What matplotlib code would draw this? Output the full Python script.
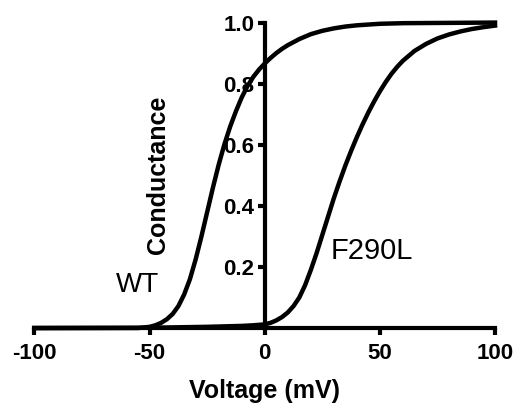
import matplotlib
matplotlib.use("Agg")
import matplotlib.pyplot as plt

plt.rcParams['font.family'] = ['Liberation Sans', 'DejaVu Sans']

# conductance-voltage curves (mV, normalised G)
wt_v = [-100, -55, -50, -47.5, -45, -42.5, -40, -37.5, -35, -32.5, -30, -27.5,
        -25, -22.5, -20, -17.5, -15, -12.5, -10, -7.5, -5, -2.5, 0, 2.5, 5,
        7.5, 10, 15, 20, 25, 30, 35, 40, 50, 60, 80, 100]
wt_g = [0.0, 0.0, 0.004, 0.009, 0.017, 0.029, 0.046, 0.072, 0.11, 0.16,
        0.225, 0.30, 0.38, 0.46, 0.535, 0.602, 0.66, 0.71, 0.755, 0.792, 0.822,
        0.846, 0.866, 0.884, 0.90, 0.914, 0.926, 0.946, 0.962, 0.973, 0.981,
        0.987, 0.991, 0.996, 0.998, 0.999, 1.0]

f290l_v = [-100, -50, -25, -10, -5, 0, 2.5, 5, 7.5, 10, 12.5, 15, 17.5, 20,
           22.5, 25, 27.5, 30, 32.5, 35, 37.5, 40, 42.5, 45, 47.5, 50, 52.5,
           55, 57.5, 60, 65, 70, 75, 80, 85, 90, 95, 100]
f290l_g = [0.0, 0.001, 0.004, 0.007, 0.009, 0.012, 0.017, 0.025, 0.036, 0.051,
           0.072, 0.10, 0.14, 0.19, 0.245, 0.305, 0.365, 0.425, 0.48, 0.532,
           0.58, 0.625, 0.667, 0.706, 0.742, 0.775, 0.805, 0.832, 0.855, 0.875,
           0.907, 0.93, 0.948, 0.961, 0.971, 0.979, 0.985, 0.99]

x_ticks = [-100, -50, 0, 50, 100]
y_ticks = [0.2, 0.4, 0.6, 0.8, 1.0]

fig = plt.figure(figsize=(5.14, 4.03), dpi=100)
ax = fig.add_axes([0.0671, 0.186, 0.896, 0.758])

ax.plot(wt_v, wt_g, color='black', lw=3.2, clip_on=False, zorder=3)
ax.plot(f290l_v, f290l_g, color='black', lw=3.2, clip_on=False, zorder=3)

ax.text(-64.8, 0.118, 'WT', fontsize=20, ha='left', va='baseline')
ax.text(28.7, 0.225, 'F290L', fontsize=21, ha='left', va='baseline')

ax.set_xlim(-100, 100)
ax.set_ylim(0, 1.0)

# axes cross at the origin, prism-style
ax.spines['left'].set_position(('data', 0))
ax.spines['right'].set_visible(False)
ax.spines['top'].set_visible(False)
for s in ('left', 'bottom'):
    ax.spines[s].set_linewidth(3)
    ax.spines[s].set_capstyle('projecting')

ax.set_xticks(x_ticks)
ax.set_xticklabels([str(t) for t in x_ticks])
ax.set_yticks(y_ticks)
ax.set_yticklabels(['%.1f' % t for t in y_ticks])
ax.tick_params(axis='x', direction='out', length=5, width=3, pad=5.5,
               labelsize=16)
ax.tick_params(axis='y', direction='out', length=5, width=3, pad=2.5,
               labelsize=16)
for lab in ax.get_xticklabels() + ax.get_yticklabels():
    lab.set_fontweight('bold')

ax.set_xlabel('Voltage (mV)', fontsize=18, fontweight='bold', labelpad=11)
ax.set_ylabel('Conductance', fontsize=18, fontweight='bold')
ax.yaxis.label.set_va('center')
ax.yaxis.set_label_coords(0.268, 0.5)

fig.savefig('out.png', dpi=100)
